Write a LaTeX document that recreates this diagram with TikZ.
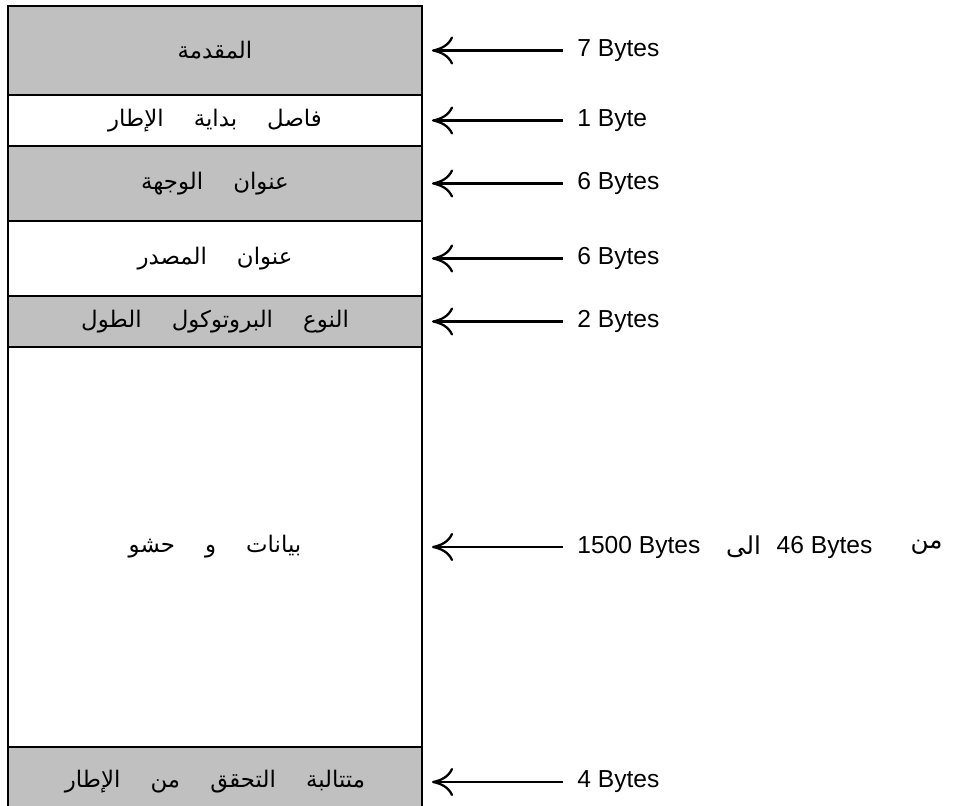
\documentclass[tikz,border=0pt]{standalone}
\usepackage{fontspec}
\setmainfont{Liberation Sans}
\newfontfamily\arabicfont[Script=Arabic]{DejaVu Sans}
\TeXXeTstate=1
\usetikzlibrary{arrows.meta, positioning}
\definecolor{fieldgray}{RGB}{192,192,192}
\newcommand{\artxt}[1]{{\arabicfont\beginR #1\endR}}
\tikzstyle{field} = [draw, rectangle, line width=0.9pt, minimum width=8.28cm, inner sep=0pt, outer sep=0pt, font=\fontsize{13}{15}\selectfont]
\tikzstyle{shaded} = [field, fill=fieldgray]
\tikzstyle{bytes} = [inner sep=0pt, font=\fontsize{14}{16}\selectfont]

\begin{document}
\begin{tikzpicture}[auto,>={Computer Modern Rightarrow[length=12pt,width=16pt,line width=1.3pt]}]
  \useasboundingbox (0,0) rectangle (19.4,-16.12);
  \node[shaded, minimum height=1.78cm, anchor=north west] (F1) at (0.16,-0.12) {\artxt{المقدمة}};
  \node[field, minimum height=1.02cm, below=0pt of F1] (F2) {\artxt{فاصل \quad بداية \quad الإطار}};
  \node[shaded, minimum height=1.5cm, below=0pt of F2] (F3) {\artxt{عنوان \quad الوجهة}};
  \node[field, minimum height=1.5cm, below=0pt of F3] (F4) {\artxt{عنوان \quad المصدر}};
  \node[shaded, minimum height=1.02cm, below=0pt of F4] (F5) {\artxt{النوع \quad البروتوكول \quad الطول}};
  \node[field, minimum height=8cm, below=0pt of F5] (F6) {\artxt{بيانات \quad و \quad حشو}};
  \node[shaded, minimum height=1.4cm, below=0pt of F6] (F7) {\artxt{متتالبة \quad التحقق \quad من \quad الإطار}};
  \node[bytes, right=3.1cm of F1] (L1) {7 Bytes};
  \node[bytes, right=3.1cm of F2] (L2) {1 Byte};
  \node[bytes, right=3.1cm of F3] (L3) {6 Bytes};
  \node[bytes, right=3.1cm of F4] (L4) {6 Bytes};
  \node[bytes, right=3.1cm of F5] (L5) {2 Bytes};
  \node[bytes, right=3.1cm of F6] (L6) {1500 Bytes};
  \node[bytes, right=3.1cm of F7] (L7) {4 Bytes};
  \node[bytes, right=0.5cm of L6] (to) {\artxt{الى}};
  \node[bytes, right=0.3cm of to] (min) {46 Bytes};
  \node[bytes, right=0.75cm of min] (from) {\artxt{من}};
  \foreach \i in {1,...,7}
    \draw[->, line width=1.3pt, shorten <=0.28cm, shorten >=0.2cm] (L\i) -- (F\i);
\end{tikzpicture}
\end{document}
